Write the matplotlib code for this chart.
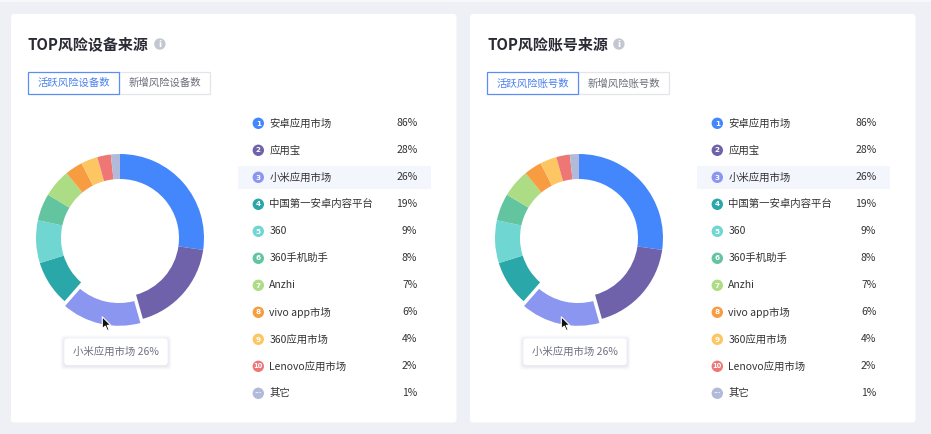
import matplotlib
matplotlib.use("Agg")
import matplotlib.pyplot as plt
from matplotlib.patches import FancyBboxPatch, Rectangle, Circle, Polygon

plt.rcParams['font.family'] = ['Noto Sans CJK SC', 'DejaVu Sans']

# ---------------- data ----------------
categories = ['安卓应用市场', '应用宝', '小米应用市场', '中国第一安卓内容平台', '360',
              '360手机助手', 'Anzhi', 'vivo app市场', '360应用市场', 'Lenovo应用市场', '其它']
percent_values = [86, 28, 26, 19, 9, 8, 7, 6, 4, 2, 1]
# share of the ring each slice occupies
slice_shares = [27.2, 18.3, 15.8, 8.7, 8.2, 5.2, 5.4, 3.4, 3.2, 2.6, 1.75]
badge_labels = ['1', '2', '3', '4', '5', '6', '7', '8', '9', '10', '···']
colors = ['#4487fc', '#6f62aa', '#8a96ef', '#2aa7a8', '#6fd6d2', '#63c59f',
          '#acdc84', '#f89c42', '#fdc663', '#ee7776', '#b2bad9']

panel_titles = ['TOP风险设备来源', 'TOP风险账号来源']
panel_buttons = [['活跃风险设备数', '新增风险设备数'], ['活跃风险账号数', '新增风险账号数']]
highlight_index = 2

W, H = 931, 434
fig = plt.figure(figsize=(W / 100, H / 100), dpi=100)
fig.patch.set_facecolor('#eef0f5')
bg = fig.add_axes([0, 0, 1, 1], zorder=0)
bg.set_xlim(0, W)
bg.set_ylim(H, 0)
bg.axis('off')

bg.add_patch(Rectangle((0, 0), W, 2, facecolor='#f6f7fa', edgecolor='none'))

TEXT = '#333333'
FS = 7.5

cursor_tips = []
for p in range(2):
    ox = 459 * p
    # card
    bg.add_patch(FancyBboxPatch((11 + ox, 14), 445.5, 408.5,
                                boxstyle='round,pad=0,rounding_size=3',
                                facecolor='white', edgecolor='none'))
    # title
    t = bg.text(28 + ox, 44, panel_titles[p], fontsize=10.8, fontweight='bold',
                color='#2b2b36', va='center', ha='left')
    fig.canvas.draw()
    bb = t.get_window_extent()
    ix = bb.x1 + 11
    bg.add_patch(Circle((ix, 44), 5.7, facecolor='#c3c7cf', edgecolor='none'))
    bg.text(ix, 44.3, 'i', fontsize=6.5, fontweight='bold', color='white',
            ha='center', va='center', family='DejaVu Sans')

    # buttons
    b1x0, b1x1, b2x1 = 28.3 + ox, 119.3 + ox, 210 + ox
    by0, by1 = 72.3, 94
    bg.add_patch(Rectangle((b1x1, by0), b2x1 - b1x1, by1 - by0, facecolor='white',
                           edgecolor='#e3e5ea', linewidth=0.9))
    bg.add_patch(Rectangle((b1x0, by0), b1x1 - b1x0, by1 - by0, facecolor='white',
                           edgecolor='#5b8ef5', linewidth=0.9))
    bg.text((b1x0 + b1x1) / 2, (by0 + by1) / 2, panel_buttons[p][0], fontsize=FS,
            color='#4a80f0', ha='center', va='center')
    bg.text((b1x1 + b2x1) / 2, (by0 + by1) / 2, panel_buttons[p][1], fontsize=FS,
            color='#6c6f78', ha='center', va='center')

    # legend
    for i, (cat, val, bl, col) in enumerate(zip(categories, percent_values, badge_labels, colors)):
        y = 123.3 + 27 * i
        if i == highlight_index:
            bg.add_patch(Rectangle((238.3 + ox, y - 11.5), 192.7, 23.3,
                                   facecolor='#f3f6fd', edgecolor='none'))
        bg.add_patch(Circle((258.3 + ox, y), 5.7, facecolor=col, edgecolor='none'))
        bg.text(258.3 + ox, y + 0.2, bl, fontsize=5.2 if len(bl) < 2 else 4.8,
                color='white', ha='center', va='center', fontweight='bold',
                family='DejaVu Sans')
        bg.text(269.3 + ox, y, cat, fontsize=FS, color=TEXT, ha='left', va='center')
        bg.text(417.3 + ox, y, f'{val}%', fontsize=FS, color=TEXT, ha='right', va='center')

    # donut
    cx, cy, R, r = 120 + ox, 238, 84, 59
    half = 100
    pax = fig.add_axes([(cx - half) / W, 1 - (cy + half) / H, 2 * half / W, 2 * half / H],
                       zorder=1)
    explode = [0.06 if i == highlight_index else 0 for i in range(len(slice_shares))]
    wedges, _ = pax.pie(slice_shares, colors=colors, startangle=90, counterclock=False,
                        explode=explode, radius=1.0,
                        wedgeprops=dict(width=(R - r) / R, linewidth=0, edgecolor='white'))
    wedges[highlight_index].set_linewidth(1.6)
    wedges[highlight_index].set_edgecolor('white')
    pax.set_xlim(-half / R, half / R)
    pax.set_ylim(-half / R, half / R)
    pax.set_aspect('equal')
    pax.axis('off')

    # tooltip
    tx0, ty0, tx1, ty1 = 64.3 + ox, 338.3, 167.7 + ox, 365
    for k, a in [(4, 0.03), (3, 0.04), (2, 0.05), (1, 0.06)]:
        bg.add_patch(FancyBboxPatch((tx0 - k, ty0 - k + 1), tx1 - tx0 + 2 * k, ty1 - ty0 + 2 * k,
                                    boxstyle='round,pad=0,rounding_size=4',
                                    facecolor='#8a90b0', alpha=a, edgecolor='none'))
    bg.add_patch(FancyBboxPatch((tx0, ty0), tx1 - tx0, ty1 - ty0,
                                boxstyle='round,pad=0,rounding_size=3',
                                facecolor='white', edgecolor='none'))
    bg.text(72.7 + ox, (ty0 + ty1) / 2, f'{categories[highlight_index]} {percent_values[highlight_index]}%',
            fontsize=FS, color='#6e7180', ha='left', va='center')
    cursor_tips.append((102.3 + ox, 316.7))

# overlay for the mouse cursor
ov = fig.add_axes([0, 0, 1, 1], zorder=5)
ov.set_xlim(0, W)
ov.set_ylim(H, 0)
ov.axis('off')
ov.patch.set_alpha(0)
s = 0.75
shape = [(0, 0), (0, 16), (4, 12.5), (6.8, 18.5), (9.2, 17.5), (6.5, 11.5), (11.5, 11.5)]
for tipx, tipy in cursor_tips:
    ov.add_patch(Polygon([(tipx + s * dx, tipy + s * dy) for dx, dy in shape], closed=True,
                         facecolor='#111111', edgecolor='white', linewidth=0.8))

fig.savefig('out.png', dpi=100, facecolor=fig.get_facecolor())
